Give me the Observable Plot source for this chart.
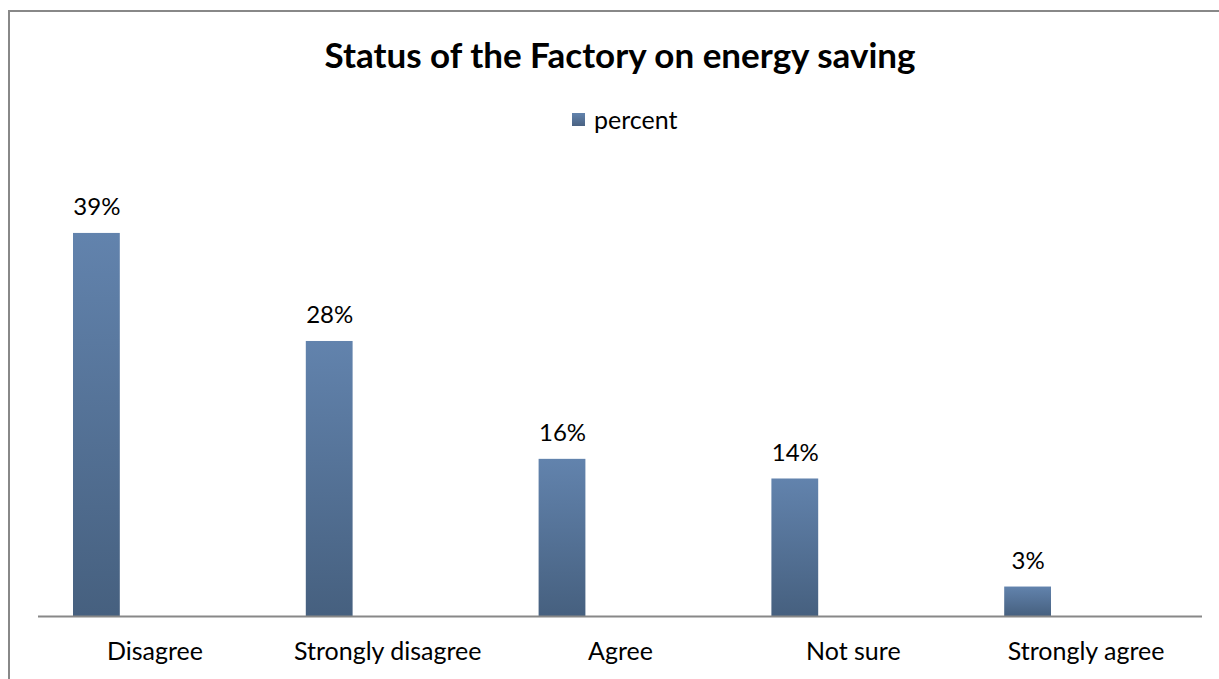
<!DOCTYPE html>
<html>
<head>
<meta charset="utf-8">
<script src="https://cdn.jsdelivr.net/npm/d3@7"></script>
<script src="https://cdn.jsdelivr.net/npm/@observablehq/plot@0.6"></script>
<style>
  html, body { margin: 0; padding: 0; background: #fff; }
  #wrap { position: relative; width: 1219px; height: 679px; overflow: hidden; font-family: Lato, "Open Sans", sans-serif; }
  #frame { position: absolute; left: 8px; top: 10px; width: 1230px; height: 700px; border: 2px solid #888; box-sizing: border-box; }
  #title { position: absolute; left: 0; width: 1240px; top: 32px; text-align: center; font-weight: bold; font-size: 35px; color: #000; line-height: 44px; }
  #legend { position: absolute; left: 572px; top: 104px; font-size: 25px; color: #000; display: flex; align-items: center; line-height: 30px; }
  #legend .sw { width: 13px; height: 13px; background: linear-gradient(#6283ad, #4a6282); margin-right: 9px; }
  #chart { position: absolute; left: 0; top: 150px; }
</style>
</head>
<body>
<div id="wrap">
  <div id="frame"></div>
  <div id="title">Status of the Factory on energy saving</div>
  <div id="legend"><div class="sw"></div><span>percent</span></div>
  <div id="chart"></div>
</div>
<script>
const categories = ["Disagree", "Strongly disagree", "Agree", "Not sure", "Strongly agree"];
const percentValues = [39, 28, 16, 14, 3];
const seriesName = "percent";

const data = categories.map((c, i) => ({category: c, value: percentValues[i]}));

const chart = Plot.plot({
  width: 1219,
  height: 529,
  marginLeft: 38,
  marginRight: 17,
  marginTop: 24,
  marginBottom: 63,
  style: {fontFamily: "Lato, 'Open Sans', sans-serif", fontSize: "25px", color: "#000", background: "transparent", overflow: "visible"},
  x: {domain: categories, padding: 0, round: false, label: null},
  y: {domain: [0, 45], axis: null},
  marks: [
    Plot.barY(data, {x: "category", y: "value", fill: "url(#barGrad)", insetLeft: 35, insetRight: 151}),
    Plot.ruleY([0], {stroke: "#888", strokeWidth: 2}),
    Plot.text(data, {x: "category", y: "value", text: d => d.value + "%", dx: -58, dy: -26, fontSize: 24, fill: "#000"}),
    Plot.axisX({tickSize: 0, tickPadding: 26, fontSize: 25, label: null, fill: "#000"})
  ]
});

const svg = d3.select(chart);
const defs = svg.insert("defs", ":first-child");
const g = defs.append("linearGradient").attr("id", "barGrad").attr("x1", 0).attr("y1", 0).attr("x2", 0).attr("y2", 1);
g.append("stop").attr("offset", "0%").attr("stop-color", "#6283ad");
g.append("stop").attr("offset", "100%").attr("stop-color", "#46607f");

document.getElementById("chart").appendChild(chart);
</script>
</body>
</html>
